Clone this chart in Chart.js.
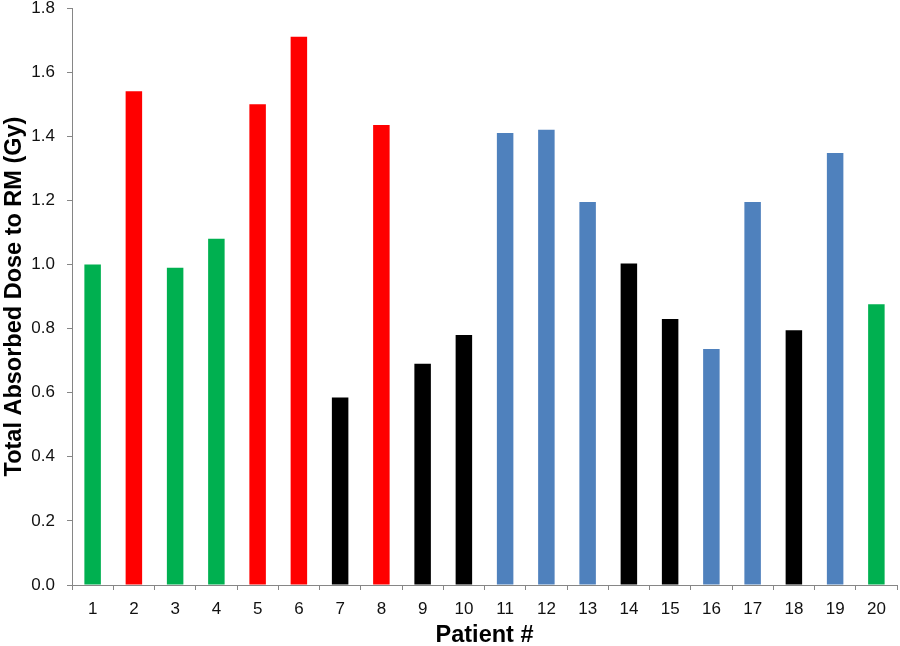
<!DOCTYPE html>
<html>
<head>
<meta charset="utf-8">
<script src="https://cdn.jsdelivr.net/npm/chart.js@4.4.1/dist/chart.umd.min.js"></script>
<style>
html,body{margin:0;padding:0;background:#fff;}
#wrap{width:900px;height:646px;position:relative;}
</style>
</head>
<body>
<div id="wrap"><canvas id="c" width="900" height="646"></canvas></div>
<script>
const patients = ["1","2","3","4","5","6","7","8","9","10","11","12","13","14","15","16","17","18","19","20"];
const dose = [1.00,1.54,0.99,1.08,1.50,1.71,0.585,1.435,0.69,0.78,1.41,1.42,1.195,1.003,0.83,0.736,1.195,0.795,1.348,0.876];
const groups = ["g","r","g","g","r","r","k","r","k","k","b","b","b","k","k","b","b","k","b","g"];
const groupColors = {g:"#00B050", r:"#FF0000", k:"#000000", b:"#4F81BD"};
const yTicks = [0,0.2,0.4,0.6,0.8,1.0,1.2,1.4,1.6,1.8];

const axisColor = "#868686";
const font = "'Liberation Sans', Arial, sans-serif";

new Chart(document.getElementById('c'), {
  type: 'bar',
  data: {
    labels: patients,
    datasets: [{
      data: dose,
      backgroundColor: groups.map(g => groupColors[g]),
      borderWidth: 0,
      categoryPercentage: 1.0,
      barPercentage: 0.4
    }]
  },
  options: {
    responsive: false,
    animation: false,
    layout: {padding: {top: 0, right: 3, left: 0, bottom: 0}},
    plugins: {legend: {display: false}, tooltip: {enabled: false}},
    scales: {
      x: {
        grid: {display: true, drawOnChartArea: false, drawTicks: true, tickLength: 5, color: axisColor, offset: true},
        border: {display: true, color: axisColor, width: 1},
        ticks: {color: "#111", font: {family: font, size: 17}, padding: 9, maxRotation: 0, autoSkip: false},
        title: {display: true, text: "Patient #", color: "#000", font: {family: font, size: 23.5, weight: 'bold'}, padding: {top: 4, bottom: -4}},
        afterFit: s => { s.height = 61; }
      },
      y: {
        min: 0, max: 1.8,
        afterBuildTicks: s => { s.ticks = yTicks.map(v => ({value: v})); },
        grid: {display: true, drawOnChartArea: false, drawTicks: true, tickLength: 5, color: axisColor},
        border: {display: true, color: axisColor, width: 1},
        ticks: {color: "#111", font: {family: font, size: 17}, padding: 12, callback: v => Number(v).toFixed(1)},
        title: {display: true, text: "Total Absorbed Dose to RM (Gy)", color: "#000", font: {family: font, size: 23.5, weight: 'bold'}, padding: {top: 0, bottom: 3}},
        afterFit: s => { s.width = 72; s.paddingTop = 8; }
      }
    }
  }
});
</script>
</body>
</html>
